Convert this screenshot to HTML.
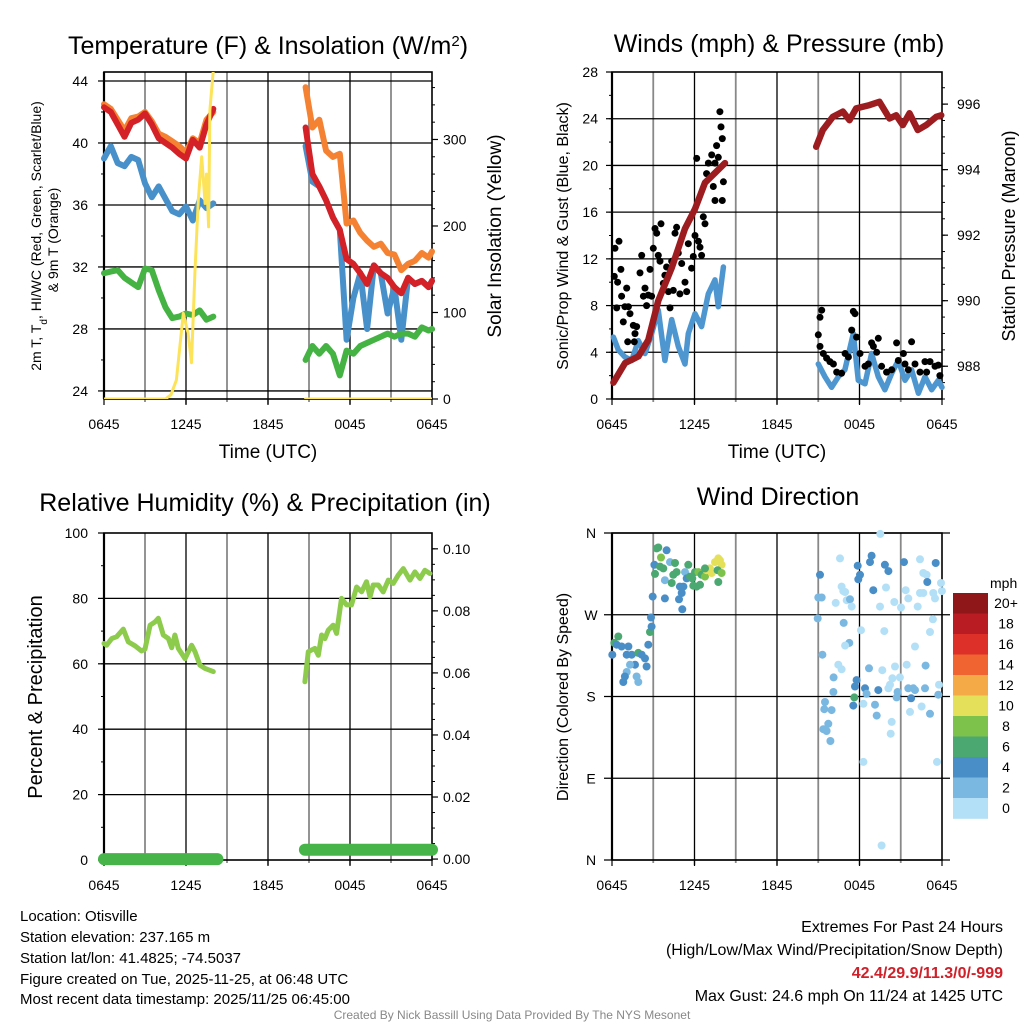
<!DOCTYPE html>
<html><head><meta charset="utf-8"><title>Otisville Mesonet Meteogram</title>
<style>
html,body{margin:0;padding:0;background:#fff;overflow:hidden;}
svg{display:block;font-family:"Liberation Sans",Arial,sans-serif;}
</style></head>
<body>
<svg id="chart" width="1024" height="1024" viewBox="0 0 1024 1024" xmlns="http://www.w3.org/2000/svg">
<defs>
<clipPath id="clip1"><rect x="104" y="72" width="328" height="327"/></clipPath>
</defs>
<text x="268" y="54" font-size="25" text-anchor="middle">Temperature (F) &amp; Insolation (W/m<tspan baseline-shift="super" font-size="15">2</tspan>)</text>
<text x="779" y="52" font-size="25" text-anchor="middle">Winds (mph) &amp; Pressure (mb)</text>
<text x="265" y="511" font-size="25" text-anchor="middle">Relative Humidity (%) &amp; Precipitation (in)</text>
<text x="778" y="505" font-size="25" text-anchor="middle">Wind Direction</text>
<text x="268" y="458" font-size="19" text-anchor="middle">Time (UTC)</text>
<text x="777" y="458" font-size="19" text-anchor="middle">Time (UTC)</text>
<text x="41" y="236" font-size="14" text-anchor="middle" transform="rotate(-90 41 236)">2m T, T<tspan baseline-shift="sub" font-size="10">d</tspan>, HI/WC (Red, Green, Scarlet/Blue)</text>
<text x="58" y="240" font-size="14" text-anchor="middle" transform="rotate(-90 58 240)">&amp; 9m T (Orange)</text>
<text x="501" y="236" font-size="19" text-anchor="middle" transform="rotate(-90 501 236)">Solar Insolation (Yellow)</text>
<text x="568" y="236" font-size="16" text-anchor="middle" transform="rotate(-90 568 236)">Sonic/Prop Wind &amp; Gust (Blue, Black)</text>
<text x="1015" y="236" font-size="18" text-anchor="middle" transform="rotate(-90 1015 236)">Station Pressure (Maroon)</text>
<text x="42" y="697" font-size="20" text-anchor="middle" transform="rotate(-90 42 697)">Percent &amp; Precipitation</text>
<text x="568" y="697" font-size="16" text-anchor="middle" transform="rotate(-90 568 697)">Direction (Colored By Speed)</text>
<text x="990" y="588" font-size="14">mph</text>
<g font-size="15">
<text x="20" y="921">Location: Otisville</text>
<text x="20" y="942">Station elevation: 237.165 m</text>
<text x="20" y="963">Station lat/lon: 41.4825; -74.5037</text>
<text x="20" y="984">Figure created on Tue, 2025-11-25, at 06:48 UTC</text>
<text x="20" y="1004">Most recent data timestamp: 2025/11/25 06:45:00</text>
</g>
<g font-size="16" text-anchor="end">
<text x="1003" y="932">Extremes For Past 24 Hours</text>
<text x="1003" y="955">(High/Low/Max Wind/Precipitation/Snow Depth)</text>
<text x="1003" y="978" fill="#d0202a" font-weight="bold">42.4/29.9/11.3/0/-999</text>
<text x="1003" y="1001">Max Gust: 24.6 mph On 11/24 at 1425 UTC</text>
</g>
<text x="512" y="1019" font-size="12" fill="#888" text-anchor="middle">Created By Nick Bassill Using Data Provided By The NYS Mesonet</text>
</svg>
<script>
// ---------- data ----------
const xTickLabels = ["0645","1245","1845","0045","0645"];
const tA = [0,0.5,1,1.5,2,2.5,3,3.5,4,4.5,5,5.5,6,6.5,7,7.5,8];
const tB = [14.75,15.25,15.75,16.25,16.75,17.25,17.75,18.25,18.75,19.25,19.75,20.25,20.75,21.25,21.75,22.25,22.75,23.25,23.75,24];
const temp2mA = [42.3,42.0,41.2,40.4,41.3,41.5,41.9,41.2,40.3,40.0,39.7,39.3,39.0,40.2,39.7,41.2,42.2];
const temp9mA = [42.5,42.2,41.5,40.8,41.6,41.7,42.0,41.4,40.6,40.4,40.1,39.8,39.4,40.3,40.0,41.5,42.0];
const wcA = [39.0,39.8,38.7,38.5,39.1,38.9,37.4,36.5,37.2,36.4,35.6,35.4,35.9,35.0,36.3,35.8,36.1];
const dewA = [31.6,31.7,31.8,31.3,31.0,30.7,31.9,31.8,30.5,29.4,28.7,28.8,29.0,28.9,29.2,28.6,28.8];
const temp2mB = [41.0,38.0,37.2,36.3,35.2,34.4,32.5,32.2,31.6,30.9,32.1,31.6,31.3,30.7,30.3,31.3,30.9,31.1,30.7,31.1];
const temp9mB = [43.6,41.0,41.5,39.5,39.1,39.3,34.8,35.0,34.2,33.7,33.3,33.5,32.9,32.8,31.8,32.2,32.4,32.9,32.6,33.0];
const wcB = [39.8,37.5,37.2,36.3,35.2,34.4,27.3,30.0,31.6,28.0,32.1,31.6,29.0,30.7,27.3,31.3,30.9,31.1,30.7,31.1];
const dewB = [26.0,26.9,26.4,26.9,26.4,25.0,26.6,26.4,26.9,27.1,27.3,27.5,27.7,27.5,27.7,27.7,27.5,28.1,27.9,28.0];
const solarT = [0,4.5,4.9,5.3,5.8,6.15,6.4,6.65,6.9,7.15,7.4,7.5,7.65,7.75,8.0];
const solar = [0,0,5,22,99,76,42,146,230,280,226,260,199,334,380];
const solarT2 = [14.75,24];
const solar2 = [0,0];

const windT1 = [0.1,0.46,0.94,1.43,1.91,2.4,2.88,3.37,3.85,4.34,4.82,5.31,5.55,6.04,6.52,7.0,7.49,7.73,8.1];
const wind1 = [5.3,4.2,3.6,3.3,5.0,3.9,5.6,7.6,3.3,6.8,4.5,3.0,5.6,7.3,6.2,9.0,10.2,7.9,11.3];
const windT2 = [15.0,15.49,15.97,16.46,16.94,17.55,17.91,18.4,18.88,19.37,19.85,20.34,20.82,21.31,21.79,22.28,22.76,23.25,23.73,24];
const wind2 = [3.0,1.9,1.0,1.9,2.5,5.6,1.6,1.3,3.9,1.9,0.8,2.2,3.3,1.6,2.5,0.5,1.9,0.8,1.6,1.0];
const gustT = [0.22,0.51,0.17,0.41,0.65,0.70,0.34,0.94,1.07,1.19,0.82,1.14,1.31,1.55,1.67,1.79,1.62,2.04,2.16,2.28,2.40,2.52,2.64,2.76,2.88,3.00,3.13,3.25,3.37,3.49,3.56,3.73,3.85,3.97,4.10,4.22,4.34,4.46,4.58,4.70,4.82,4.94,5.07,5.31,5.43,5.55,5.79,5.91,6.04,6.16,6.28,6.40,6.52,6.64,6.76,6.88,7.01,7.25,7.37,7.49,7.61,7.73,7.85,7.93,8.02,8.10,8.02,7.49,
15.00,15.13,15.25,15.13,15.37,15.61,15.85,16.10,16.34,16.70,16.95,17.19,17.43,17.55,17.67,17.79,18.04,18.40,18.64,18.88,19.01,19.25,19.37,19.61,19.97,20.34,20.70,20.82,21.19,21.31,21.55,21.79,22.04,22.40,22.76,22.88,23.13,23.49,23.73,23.85];
const gust = [12.9,13.5,10.5,10.0,11.1,8.8,7.8,7.9,9.5,7.9,6.6,4.9,7.3,6.3,5.6,6.2,4.9,10.8,12.3,8.8,9.5,8.0,8.9,11.1,8.8,12.9,14.6,14.2,12.3,11.8,15.0,9.9,10.6,11.3,9.2,7.8,11.8,9.3,14.2,14.7,12.5,9.0,11.6,10.0,9.2,13.3,11.2,12.2,14.0,20.6,13.5,13.0,12.3,15.6,15.0,19.3,20.2,20.9,18.2,17.0,21.7,20.7,24.6,23.3,22.3,18.6,17.0,20.2,
5.5,7.0,7.6,4.5,3.9,3.5,3.2,3.0,2.3,2.2,3.9,3.6,5.9,7.5,7.3,5.3,3.9,2.8,3.0,4.8,4.5,4.0,5.2,2.8,2.3,2.5,4.8,3.3,3.9,3.0,2.5,4.9,3.0,2.3,3.2,2.3,3.2,2.8,2.9,2.0];
const presT1 = [0.1,0.95,1.92,2.64,3.37,4.34,5.31,6.04,6.76,7.49,8.22];
const pres1 = [987.5,988.1,988.3,988.8,990.0,991.0,992.2,992.8,993.6,993.9,994.2];
const presT2 = [14.85,15.33,16.06,16.79,17.27,17.76,18.73,19.45,20.18,20.67,21.15,21.64,22.24,22.85,23.58,23.94];
const pres2 = [994.7,995.21,995.61,995.77,995.51,995.87,995.97,996.07,995.56,995.66,995.36,995.72,995.21,995.36,995.61,995.66];

const rhT1 = [0,0.19,0.56,0.93,1.41,1.78,2.27,2.75,3.0,3.37,3.73,3.97,4.34,4.71,4.95,5.19,5.44,5.93,6.41,6.66,7.02,7.39,8.0];
const rh1 = [66.2,65.7,67.7,68.3,70.6,66.7,65.5,63.9,64.5,71.8,72.8,73.9,68.8,67.7,64.9,68.8,64.7,61.6,65.7,63.7,59.6,58.6,57.6];
const rhT2 = [14.7,14.95,15.43,15.68,15.92,16.16,16.41,16.77,17.02,17.38,17.75,18.11,18.48,18.85,19.21,19.46,19.7,20.07,20.43,20.8,21.17,21.53,21.9,22.39,22.75,23.12,23.48,23.85];
const rh2 = [54.5,63.7,64.7,62.6,68.8,67.7,70.3,71.8,69.3,80.0,78.0,78.0,83.5,82.0,85.1,80.5,84.1,84.1,82.0,85.6,84.6,87.1,89.1,85.6,88.1,86.1,88.6,87.6];
const precipT1 = [0,8.3];
const precip1 = [0,0];
const precipT2 = [14.7,24];
const precip2 = [0.003,0.003];

const dirHours = [0.17,0.46,0.02,0.34,0.70,1.07,1.19,1.43,1.91,2.16,2.4,1.67,1.31,1.07,0.94,0.82,1.79,1.91,2.52,2.64,2.76,2.88,2.84,2.96,3.13,3.08,3.25,3.37,3.56,3.97,3.49,3.73,3.85,4.22,4.58,4.70,4.46,4.34,4.94,5.19,5.07,4.87,3.85,5.11,5.31,5.55,5.43,5.67,5.84,6.04,6.16,6.4,6.28,6.52,6.76,6.88,7.13,7.25,7.49,7.73,7.97,7.85,7.68,7.97,7.73,6.76,5.91,
15.13,15.0,15.25,14.96,15.3,16.58,16.70,16.82,16.95,17.07,17.31,17.43,16.27,17.87,18.04,17.91,18.88,18.76,19.0,19.85,20.1,19.93,19.49,20.53,21.02,21.24,21.36,21.55,22.23,22.4,22.64,22.88,22.93,23.37,23.54,23.93,23.99,23.49,22.4,22.64,19.51,16.85,18.11,19.8,23.34,23.13,17.26,16.95,22.04,16.46,16.70,16.12,17.79,17.67,16.1,18.69,19.66,20.58,20.94,21.43,20.39,20.22,20.1,19.37,18.4,18.52,18.28,19.13,19.25,20.77,20.7,21.55,21.91,22.04,21.75,22.76,22.81,23.78,23.73,22.52,21.67,23.13,17.62,17.55,15.49,15.44,15.97,15.73,15.37,15.61,15.88,20.34,20.27,18.28,23.64,19.61];
const dirDeg = [239,246,226,237,235,226,235,226,228,226,222,215,215,207,202,196,202,196,213,237,251,257,267,290,315,325,343,344,333,341,323,321,308,328,327,317,314,305,301,301,294,287,288,276,317,325,310,312,310,317,301,303,317,314,312,319,321,316,328,332,325,330,319,316,306,321,302,
314,289,289,266,226,332,301,296,295,286,287,279,283,324,314,309,335,328,297,325,318,300,279,284,278,328,297,288,279,331,316,314,306,294,327,305,296,288,294,294,359,261,253,252,265,251,239,236,235,215,210,201,198,191,185,211,209,213,201,215,200,193,189,187,189,183,172,171,159,185,179,189,189,187,178,189,214,193,182,169,163,161,179,170,174,166,165,150,144,142,131,152,139,108,108,16];
const dirSpeed = [6.5,6.5,4.6,4.6,4.6,4.6,4.6,4.6,6.5,4.6,4.6,4.6,2.8,2.8,4.6,4.6,2.8,2.8,4.6,4.6,6.5,4.6,4.6,4.6,6.5,4.6,6.5,6.5,8.4,4.6,6.5,6.5,2.8,2.8,6.5,6.5,6.5,6.5,4.6,4.6,4.6,4.6,4.6,4.6,2.8,6.5,4.6,6.5,6.5,6.5,6.5,6.5,8.4,6.5,8.4,10.3,10.3,10.3,10.3,10.3,10.3,10.3,6.5,8.4,6.5,6.5,6.5,
4.6,2.8,2.8,2.8,2.8,1.2,1.2,1.2,1.2,1.2,2.8,1.2,1.2,4.6,4.6,4.6,4.6,4.6,4.6,4.6,4.6,1.2,1.2,1.2,1.2,4.6,1.2,1.2,1.2,1.2,1.2,1.2,4.6,1.2,4.6,1.2,1.2,1.2,1.2,1.2,1.2,2.8,1.2,1.2,1.2,1.2,2.8,1.2,1.2,1.2,1.2,2.8,4.6,4.6,2.8,2.8,1.2,1.2,1.2,1.2,1.2,1.2,1.2,4.6,4.6,2.8,1.2,2.8,2.8,2.8,2.8,2.8,2.8,2.8,4.6,2.8,2.8,1.2,2.8,1.2,1.2,2.8,6.5,4.6,2.8,2.8,2.8,2.8,2.8,2.8,2.8,1.2,1.2,1.2,1.2,1.2];
const cbLabels = ["20+","18","16","14","12","10","8","6","4","2","0"];
const cbColors = ["#8f1619","#b91c22","#dc3028","#ef6430","#f5aa48","#e5e05a","#7dc24b","#4aa870","#4a8ec8","#7ab8e2","#b3e0f7"];

// ---------- helpers ----------
const NS = "http://www.w3.org/2000/svg";
const svg = document.getElementById("chart");
function scale(d0,d1,r0,r1){return v => r0 + (v-d0)*(r1-r0)/(d1-d0);}
function mk(tag, parent){const e=document.createElementNS(NS,tag);(parent||svg).appendChild(e);return e;}
function group(name){
  const g = mk("g");
  
  
  return g;
}
function line(g,x1,y1,x2,y2,stroke,w,name){
  const l = mk("line", g);
  l.setAttribute("x1",x1);l.setAttribute("y1",y1);l.setAttribute("x2",x2);l.setAttribute("y2",y2);
  l.setAttribute("stroke",stroke);l.setAttribute("stroke-width",w);
  
  
  return l;
}
function label(g,x,y,str,size,anchor,name){
  const t = mk("text", g);
  t.setAttribute("x",x);t.setAttribute("y",y);t.setAttribute("font-size",size);t.setAttribute("text-anchor",anchor);
  t.textContent = str;
  
  
  return t;
}
function series(g,ts,vs,xs,ys,color,w,name,clip){
  const p = mk("path", g);
  let d = "";
  for(let i=0;i<ts.length;i++){d += (i?"L":"M")+xs(ts[i]).toFixed(1)+","+ys(vs[i]).toFixed(1);}
  p.setAttribute("d",d);p.setAttribute("fill","none");p.setAttribute("stroke",color);
  p.setAttribute("stroke-width",w);p.setAttribute("stroke-linejoin","round");p.setAttribute("stroke-linecap","round");
  if(clip) p.setAttribute("clip-path","url(#"+clip+")");
  
  
  return p;
}
function frame(prefix,L,R,T,B,xs,hLines){
  const g = group(prefix+"-grid");
  for(let h=3;h<24;h+=3){
    const major = h%6===0;
    line(g,xs(h),T,xs(h),B+ (major?5:3),major?"#000":"#888",major?1.3:1.8,prefix+"-vgrid");
  }
  hLines.forEach(y=>line(g,L,y,R,y,"#000",1.3,prefix+"-hgrid"));
  const f = mk("rect", g);
  f.setAttribute("x",L);f.setAttribute("y",T);f.setAttribute("width",R-L);f.setAttribute("height",B-T);
  f.setAttribute("fill","none");f.setAttribute("stroke","#000");f.setAttribute("stroke-width",1.6);
  
  
  line(g,L,T,L,B,"#000",2.2,prefix+"-left-axis");
  const ax = group(prefix+"-x-axis");
  for(let i=0;i<xTickLabels.length;i++){
    const x = xs(i*6);
    line(ax,x,B,x,B+6,"#000",1.2,prefix+"-x-tick");
    label(ax,x,B+30,xTickLabels[i],14,"middle",prefix+"-x-tick-label");
  }
}
function yAxis(prefix,side,edge,ys,hi,majLo,majStep,minLo,minStep,fmt,labelX,anchor){
  const g = group(prefix+"-"+side+"-y-axis");
  const dir = side==="left"?-1:1;
  for(let v=minLo; v<=hi+1e-9; v+=minStep){
    line(g,edge,ys(v),edge+dir*3,ys(v),"#000",1,prefix+"-minor-tick");
  }
  for(let v=majLo; v<=hi+1e-9; v+=majStep){
    line(g,edge,ys(v),edge+dir*6,ys(v),"#000",1.2,prefix+"-major-tick");
    label(g,labelX,ys(v)+5,fmt(v),14,anchor,prefix+"-y-tick-label");
  }
}

// ---------- panel 1: temperature ----------
const x1 = scale(0,24,104,432);
const yT = scale(23.48,44.58,399,72);
const yS = scale(0,378,399,72);
frame("temp",104,432,72,399,x1,[yT(44),yT(40),yT(36),yT(32),yT(28),yT(24)]);
yAxis("temp","left",104,yT,44,24,4,24,2,v=>String(v),88,"end");
yAxis("solar","right",432,yS,370,0,100,0,20,v=>String(v),443,"start");
const gT = group("temperature-series");
series(gT,tA,temp9mA,x1,yT,"#f58232",6,"temp-9m-line-a");
series(gT,tB,temp9mB,x1,yT,"#f58232",6,"temp-9m-line-b");
series(gT,tA,wcA,x1,yT,"#4790c9",6,"windchill-line-a");
series(gT,tB,wcB,x1,yT,"#4790c9",6,"windchill-line-b");
series(gT,tA,temp2mA,x1,yT,"#d42027",6,"temp-2m-line-a");
series(gT,tB,temp2mB,x1,yT,"#d42027",6,"temp-2m-line-b");
series(gT,tA,dewA,x1,yT,"#45b244",6,"dewpoint-line-a");
series(gT,tB,dewB,x1,yT,"#45b244",6,"dewpoint-line-b");
series(gT,solarT,solar,x1,yS,"#fde35a",3,"solar-line-a","clip1");
series(gT,solarT2,solar2,x1,yS,"#fde35a",3,"solar-line-b","clip1");

// ---------- panel 2: wind & pressure ----------
const x2 = scale(0,24,612,942);
const yW = scale(0,28,399,72);
const yP = scale(987.0,996.98,399,72);
frame("wind",612,942,72,399,x2,[yW(4),yW(8),yW(12),yW(16),yW(20),yW(24)]);
yAxis("wind","left",612,yW,28,0,4,0,2,v=>String(v),598,"end");
yAxis("pressure","right",942,yP,996.9,988,2,987,0.5,v=>String(Math.round(v)),957,"start");
const gW = group("wind-series");
series(gW,windT1,wind1,x2,yW,"#4e96d0",5.5,"wind-speed-line-a");
series(gW,windT2,wind2,x2,yW,"#4e96d0",5.5,"wind-speed-line-b");
for(let i=0;i<gustT.length;i++){
  const c = mk("circle", gW);
  c.setAttribute("cx",x2(gustT[i]).toFixed(1));c.setAttribute("cy",yW(gust[i]).toFixed(1));c.setAttribute("r",3.5);c.setAttribute("fill","#000");
  
  
}
series(gW,presT1,pres1,x2,yP,"#9c1c1f",6.5,"pressure-line-a");
series(gW,presT2,pres2,x2,yP,"#9c1c1f",6.5,"pressure-line-b");

// ---------- panel 3: humidity ----------
const x3 = scale(0,24,104,432);
const yR = scale(0,100,860,533);
const yPr = scale(-0.0003,0.1051,860,533);
frame("humidity",104,432,533,860,x3,[yR(20),yR(40),yR(60),yR(80)]);
yAxis("humidity","left",104,yR,100,0,20,0,10,v=>String(v),88,"end");
yAxis("precip","right",432,yPr,0.1,0,0.02,0,0.005,v=>v.toFixed(2),443,"start");
const gR = group("humidity-series");
series(gR,rhT1,rh1,x3,yR,"#8dcb4c",5,"humidity-line-a");
series(gR,rhT2,rh2,x3,yR,"#8dcb4c",5,"humidity-line-b");
series(gR,precipT1,precip1,x3,yPr,"#47b449",12,"precip-line-a");
series(gR,precipT2,precip2,x3,yPr,"#47b449",12,"precip-line-b");

// ---------- panel 4: wind direction ----------
const x4 = scale(0,24,612,942);
const yD = scale(0,360,860,533);
const dirLabels = ["N","E","S","W","N"];
frame("direction",612,942,533,860,x4,[]);
const gD = group("direction-y-axis");
for(let i=0;i<dirLabels.length;i++){
  const y = yD(i*90);
  line(gD,604,y,950,y,"#000",1.3,"direction-hgrid");
  label(gD,591,y+5,dirLabels[i],14,"middle","direction-tick-label");
}
const gDots = group("direction-points");
for(let i=0;i<dirHours.length;i++){
  const c = mk("circle", gDots);
  const bin = Math.min(10, Math.floor(dirSpeed[i]/2));
  c.setAttribute("cx",x4(dirHours[i]).toFixed(1));c.setAttribute("cy",yD(dirDeg[i]).toFixed(1));c.setAttribute("r",4);
  c.setAttribute("fill",cbColors[10-bin]);
  
  
}
const gCb = group("speed-colorbar");
for(let i=0;i<cbLabels.length;i++){
  const r = mk("rect", gCb);
  r.setAttribute("x",953);r.setAttribute("y",(593+i*20.5).toFixed(1));r.setAttribute("width",35);r.setAttribute("height",20.8);r.setAttribute("fill",cbColors[i]);
  
  
  label(gCb,1006,593+i*20.5+15,cbLabels[i],14,"middle","colorbar-label");
}
</script>
</body></html>
